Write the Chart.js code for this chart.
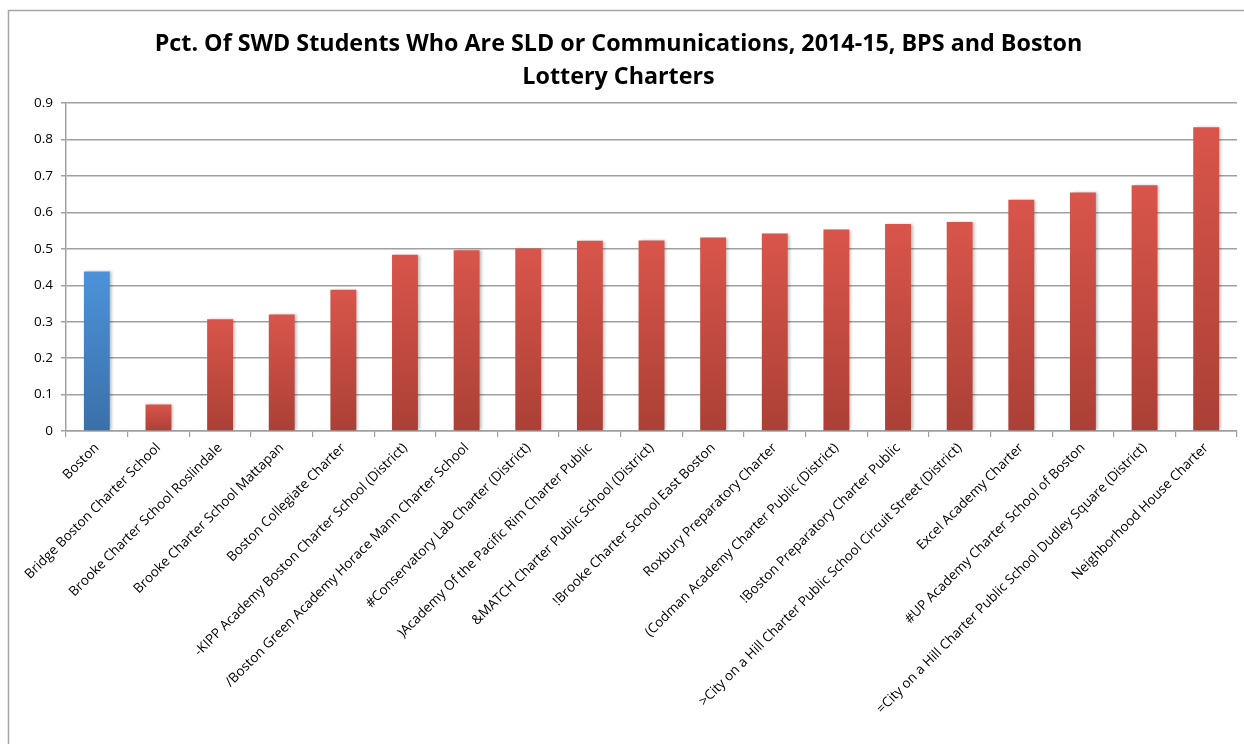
<!DOCTYPE html>
<html>
<head>
<meta charset="utf-8">
<script src="https://cdn.jsdelivr.net/npm/chart.js@4"></script>
<style>
  html, body { margin: 0; padding: 0; background: #fff; }
  #wrap { position: relative; width: 1244px; height: 744px; }
</style>
</head>
<body>
<div id="wrap"><canvas id="c" width="1244" height="744"></canvas></div>
<script>
const titleLines = ["Pct. Of SWD Students Who Are SLD or Communications, 2014-15, BPS and Boston", "Lottery Charters"];
const categories = [
  "Boston",
  "Bridge Boston Charter School",
  "Brooke Charter School Roslindale",
  "Brooke Charter School Mattapan",
  "Boston Collegiate Charter",
  "-KIPP Academy Boston Charter School (District)",
  "/Boston Green Academy Horace Mann Charter School",
  "#Conservatory Lab Charter (District)",
  ")Academy Of the Pacific Rim Charter Public",
  "&MATCH Charter Public School (District)",
  "!Brooke Charter School East Boston",
  "Roxbury Preparatory Charter",
  "(Codman Academy Charter Public (District)",
  "!Boston Preparatory Charter Public",
  ">City on a Hill Charter Public School Circuit Street (District)",
  "Excel Academy Charter",
  "#UP Academy Charter School of Boston",
  "=City on a Hill Charter Public School Dudley Square (District)",
  "Neighborhood House Charter"
];
const values = [0.438, 0.073, 0.307, 0.320, 0.388, 0.484, 0.496, 0.501, 0.522, 0.523, 0.531, 0.542, 0.553, 0.568, 0.574, 0.635, 0.655, 0.675, 0.834];
const highlightCategory = "Boston";
const yTicks = [0, 0.1, 0.2, 0.3, 0.4, 0.5, 0.6, 0.7, 0.8, 0.9];

const blueTop = "#4c92da", blueBottom = "#3a70a9";
const redTop = "#d9554b", redBottom = "#ab4036";

function barFill(ctx) {
  const chart = ctx.chart;
  const ys = chart.scales && chart.scales.y;
  const isHL = categories[ctx.dataIndex] === highlightCategory;
  const top = isHL ? blueTop : redTop, bottom = isHL ? blueBottom : redBottom;
  if (!ys || !chart.chartArea || ctx.raw == null) return top;
  const yTop = ys.getPixelForValue(ctx.raw);
  const yBase = ys.getPixelForValue(0);
  if (!isFinite(yTop) || !isFinite(yBase) || yBase - yTop < 1) return top;
  const g = chart.ctx.createLinearGradient(0, yTop, 0, yBase);
  g.addColorStop(0, top);
  g.addColorStop(1, bottom);
  return g;
}

const framePlugin = {
  id: 'frame',
  beforeDraw(chart) {
    const c = chart.ctx;
    c.save();
    c.fillStyle = '#fff';
    c.fillRect(0, 0, chart.width, chart.height);
    c.strokeStyle = '#a6a6a6';
    c.lineWidth = 1.5;
    c.beginPath();
    c.moveTo(8.5, 800);
    c.lineTo(8.5, 10.5);
    c.lineTo(1300, 10.5);
    c.stroke();
    c.restore();
  },
  beforeDatasetsDraw(chart) {
    const c = chart.ctx;
    c.save();
    c.shadowColor = 'rgba(0,0,0,0.28)';
    c.shadowBlur = 3;
    c.shadowOffsetX = 2;
    c.shadowOffsetY = 0;
  },
  afterDatasetsDraw(chart) {
    chart.ctx.restore();
  }
};

new Chart(document.getElementById('c'), {
  type: 'bar',
  data: {
    labels: categories,
    datasets: [{
      data: values,
      backgroundColor: barFill,
      borderWidth: 0,
      categoryPercentage: 1.0,
      barPercentage: 0.42
    }]
  },
  options: {
    responsive: false,
    animation: false,
    devicePixelRatio: 1,
    layout: { padding: { left: 0, right: 7, top: 0, bottom: 0 } },
    plugins: {
      legend: { display: false },
      tooltip: { enabled: false },
      title: {
        display: true,
        text: titleLines,
        color: '#000',
        font: { family: "'Open Sans', sans-serif", size: 23.3, weight: 'bold', lineHeight: 1.42 },
        padding: { top: 28, bottom: 9 }
      }
    },
    scales: {
      x: {
        offset: true,
        afterFit(scale) { scale.height = 313; },
        grid: { display: true, drawOnChartArea: false, offset: true, tickLength: 6, color: '#a0a0a0', lineWidth: 1.2 },
        border: { display: true, color: '#a0a0a0', width: 1.5 },
        ticks: {
          autoSkip: false,
          maxRotation: 45,
          minRotation: 45,
          padding: 3,
          color: '#000',
          font: { family: "'Open Sans', sans-serif", size: 13.5 }
        }
      },
      y: {
        min: 0,
        max: 0.9,
        afterFit(scale) { scale.width = 66; },
        afterBuildTicks(scale) { scale.ticks = yTicks.map(v => ({ value: v })); },
        grid: { color: '#a0a0a0', lineWidth: 1.5, tickLength: 5, drawTicks: true },
        border: { display: true, color: '#a0a0a0', width: 1.5 },
        ticks: {
          padding: 8,
          color: '#000',
          font: { family: "'Open Sans', sans-serif", size: 13.5 },
          callback: (v) => String(Math.round(v * 10) / 10)
        }
      }
    }
  },
  plugins: [framePlugin]
});
</script>
</body>
</html>
